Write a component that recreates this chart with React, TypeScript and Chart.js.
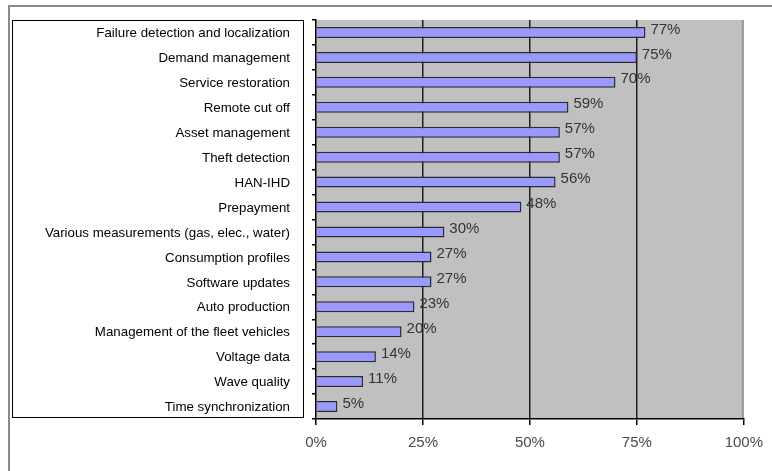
import React, { useEffect, useRef } from "react";
import { Chart, registerables } from "chart.js";

Chart.register(...registerables);

const categories: string[] = [
  "Failure detection and localization",
  "Demand management",
  "Service restoration",
  "Remote cut off",
  "Asset management",
  "Theft detection",
  "HAN-IHD",
  "Prepayment",
  "Various measurements (gas, elec., water)",
  "Consumption profiles",
  "Software updates",
  "Auto production",
  "Management of the fleet vehicles",
  "Voltage data",
  "Wave quality",
  "Time synchronization",
];

const values: number[] = [77, 75, 70, 59, 57, 57, 56, 48, 30, 27, 27, 23, 20, 14, 11, 5];

const xTicks: number[] = [0, 25, 50, 75, 100];

const FONT = "'Liberation Sans', Arial, sans-serif";

const decorPlugin = {
  id: "decor",
  beforeDraw(chart: any) {
    const { ctx, chartArea } = chart;
    const { left, top, right, bottom } = chartArea;
    ctx.save();
    // outer frame (top and left)
    ctx.strokeStyle = "#8a8a8a";
    ctx.lineWidth = 2;
    ctx.beginPath();
    ctx.moveTo(9, chart.height);
    ctx.lineTo(9, 6);
    ctx.lineTo(chart.width, 6);
    ctx.stroke();
    // plot background
    ctx.fillStyle = "#c0c0c0";
    ctx.fillRect(left, top, right - left, bottom - top);
    // right border of plot
    ctx.strokeStyle = "#9a9a9a";
    ctx.lineWidth = 2;
    ctx.beginPath();
    ctx.moveTo(right - 1, top);
    ctx.lineTo(right - 1, bottom);
    ctx.stroke();
    // label box
    ctx.fillStyle = "#ffffff";
    ctx.fillRect(12, top, 291, bottom - top - 1);
    ctx.strokeStyle = "#000000";
    ctx.lineWidth = 1;
    ctx.strokeRect(12.5, top + 0.5, 291, bottom - top - 2);
    ctx.restore();
  },
  afterDatasetsDraw(chart: any) {
    const { ctx } = chart;
    const meta = chart.getDatasetMeta(0);
    ctx.save();
    ctx.font = `15px ${FONT}`;
    ctx.fillStyle = "#333333";
    ctx.textAlign = "left";
    ctx.textBaseline = "middle";
    meta.data.forEach((bar: any, i: number) => {
      ctx.fillText(`${values[i]}%`, bar.x + 5, bar.y - 3);
    });
    ctx.restore();
  },
};

export default function App() {
  const ref = useRef<HTMLCanvasElement | null>(null);

  useEffect(() => {
    if (!ref.current) return;
    const chart = new Chart(ref.current, {
      type: "bar",
      data: {
        labels: categories,
        datasets: [
          {
            data: values,
            backgroundColor: "#9999ff",
            borderColor: "#2a2a3a",
            borderWidth: 1.5,
            barPercentage: 0.44,
            categoryPercentage: 1,
          },
        ],
      },
      options: {
        indexAxis: "y",
        animation: false,
        responsive: false,
        maintainAspectRatio: false,
        layout: { padding: { top: 20, right: 24, bottom: 0, left: 0 } },
        plugins: {
          legend: { display: false },
          tooltip: { enabled: false },
        },
        scales: {
          x: {
            min: 0,
            max: 100,
            afterBuildTicks: (scale: any) => {
              scale.ticks = xTicks.map((v) => ({ value: v }));
            },
            afterFit: (scale: any) => {
              scale.height = 52;
            },
            ticks: {
              callback: (v: any) => `${v}%`,
              color: "#4a4a52",
              font: { family: FONT, size: 15 },
              padding: 9,
              maxRotation: 0,
            },
            grid: {
              color: (c: any) => {
                const v = c.tick ? c.tick.value : 0;
                if (v === 0 || v === 100) return "rgba(0,0,0,0)";
                return "#1e1e1e";
              },
              lineWidth: 1.5,
              tickColor: "#000000",
              tickLength: 6,
              drawOnChartArea: true,
            },
            border: { display: true, color: "#000000", width: 1.5 },
          },
          y: {
            afterFit: (scale: any) => {
              scale.width = 316;
              scale.paddingTop = 0;
              scale.paddingBottom = 0;
            },
            ticks: {
              color: "#000000",
              font: { family: FONT, size: 13.3 },
              padding: 22,
              autoSkip: false,
              labelOffset: 1,
            },
            grid: {
              offset: true,
              drawOnChartArea: false,
              tickColor: "#000000",
              tickLength: 4,
              lineWidth: 1.5,
            },
            border: { display: true, color: "#000000", width: 1.5 },
          },
        },
      },
      plugins: [decorPlugin],
    });
    return () => chart.destroy();
  }, []);

  return (
    <div style={{ position: "fixed", left: 0, top: 0, width: 772, height: 471, background: "#fff" }}>
      <canvas ref={ref} width={772} height={471} style={{ width: 772, height: 471, display: "block" }} />
    </div>
  );
}
